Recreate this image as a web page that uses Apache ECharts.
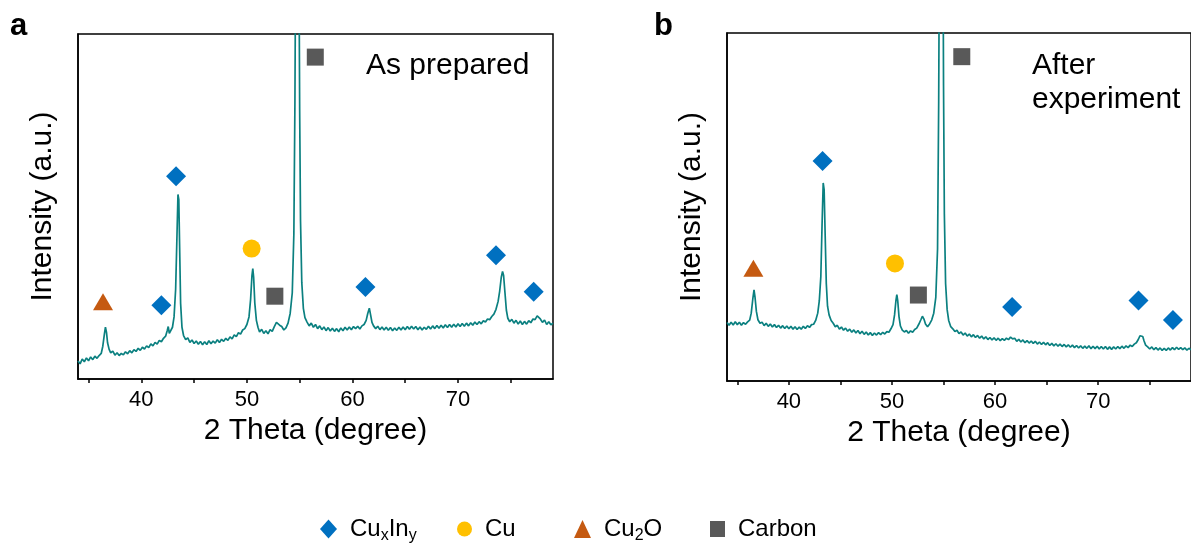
<!DOCTYPE html>
<html>
<head>
<meta charset="utf-8">
<script src="https://cdn.jsdelivr.net/npm/echarts@6/dist/echarts.min.js"></script>
<style>
  html, body { margin: 0; padding: 0; background: #ffffff; }
  #chart { width: 1191px; height: 548px; }
</style>
</head>
<body>
<div id="chart"></div>
<script>
// ---------------- DATA ----------------
const xMajorTicks = [40, 50, 60, 70];
const xAllTicks = [35, 40, 45, 50, 55, 60, 65, 70, 75];
const xTitle = '2 Theta (degree)';
const yTitle = 'Intensity (a.u.)';
const panelLabels = ['a', 'b'];
const panelNotes = [['As prepared'], ['After', 'experiment']];
const phaseNames = ['CuxIny', 'Cu', 'Cu2O', 'Carbon'];

// Panel a: XRD pattern (2θ, intensity in % of plot height)
const curveA = [
[34.0,5.2],[34.2,4.4],[34.4,5.8],[34.6,5.0],[34.8,6.1],[35.0,5.3],[35.2,6.4],[35.4,5.6],[35.6,6.6],[35.8,6.0],
[36.0,6.8],[36.2,7.4],[36.35,9.5],[36.5,13.0],[36.6,15.0],[36.7,13.5],[36.8,10.5],[36.95,8.6],[37.1,7.6],[37.3,8.1],
[37.5,6.9],[37.7,7.6],[37.9,6.8],[38.1,7.4],[38.3,7.0],[38.5,7.9],[38.7,7.3],[38.9,8.2],[39.1,7.6],[39.3,8.5],
[39.5,8.0],[39.7,8.9],[39.9,8.3],[40.1,9.2],[40.3,8.7],[40.5,9.6],[40.7,9.1],[40.9,10.2],[41.1,9.6],[41.3,10.6],
[41.5,10.1],[41.7,11.2],[41.9,10.8],[42.1,11.8],[42.3,12.4],[42.45,14.0],[42.55,15.2],[42.65,13.2],[42.8,13.6],[42.95,15.0],
[43.1,18.0],[43.25,26.0],[43.38,42.0],[43.47,53.5],[43.55,52.0],[43.63,38.0],[43.72,22.0],[43.85,15.0],[44.0,12.6],[44.2,11.4],
[44.4,11.9],[44.6,10.6],[44.8,11.3],[45.0,10.3],[45.2,11.0],[45.4,10.1],[45.6,10.9],[45.8,9.9],[46.0,10.8],[46.2,10.0],
[46.4,11.1],[46.6,10.2],[46.8,11.0],[47.0,10.4],[47.2,11.4],[47.4,10.6],[47.6,11.5],[47.8,10.9],[48.0,11.8],[48.2,11.2],
[48.4,12.2],[48.6,11.6],[48.8,12.8],[49.0,12.3],[49.2,13.4],[49.4,13.0],[49.6,14.2],[49.8,14.6],[50.0,15.8],[50.2,18.0],
[50.35,23.0],[50.48,30.0],[50.56,32.0],[50.64,29.5],[50.75,22.0],[50.9,17.0],[51.05,15.0],[51.2,13.6],[51.4,14.4],[51.6,13.2],
[51.8,14.0],[52.0,13.1],[52.2,14.3],[52.4,13.8],[52.6,15.2],[52.8,16.4],[52.95,16.8],[53.1,15.6],[53.3,15.2],[53.5,14.2],
[53.7,14.8],[53.9,16.2],[54.1,19.0],[54.3,25.0],[54.45,42.0],[54.55,80.0],[54.63,130.0],[54.7,180.0],[54.85,180.0],[54.92,130.0],
[55.0,78.0],[55.08,46.0],[55.2,28.0],[55.35,20.5],[55.5,17.8],[55.7,16.5],[55.9,15.4],[56.1,16.2],[56.3,15.0],[56.5,15.8],
[56.7,14.6],[56.9,15.4],[57.1,14.3],[57.3,15.1],[57.5,14.0],[57.7,14.9],[57.9,13.9],[58.1,14.7],[58.3,13.8],[58.5,14.6],
[58.7,13.7],[58.9,14.8],[59.1,14.0],[59.3,15.0],[59.5,14.2],[59.7,15.1],[59.9,14.3],[60.1,15.2],[60.3,14.6],[60.5,15.3],
[60.7,14.5],[60.9,15.4],[61.1,15.8],[61.3,17.0],[61.45,19.0],[61.6,20.5],[61.72,18.6],[61.85,16.4],[62.0,15.4],[62.2,14.6],
[62.4,15.3],[62.6,14.3],[62.8,15.1],[63.0,14.2],[63.2,15.0],[63.4,14.1],[63.6,14.9],[63.8,14.0],[64.0,14.8],[64.2,14.1],
[64.4,15.0],[64.6,14.2],[64.8,15.1],[65.0,14.3],[65.2,15.2],[65.4,14.4],[65.6,15.3],[65.8,14.5],[66.0,15.2],[66.2,14.3],
[66.4,15.1],[66.6,14.2],[66.8,15.0],[67.0,14.4],[67.2,15.3],[67.4,14.5],[67.6,15.4],[67.8,14.6],[68.0,15.5],[68.2,14.7],
[68.4,15.6],[68.6,14.8],[68.8,15.7],[69.0,14.9],[69.2,15.8],[69.4,15.0],[69.6,15.9],[69.8,15.1],[70.0,16.0],[70.2,15.2],
[70.4,16.1],[70.6,15.3],[70.8,16.2],[71.0,15.4],[71.2,16.3],[71.4,15.6],[71.6,16.5],[71.8,15.8],[72.0,16.6],[72.2,16.0],
[72.4,16.9],[72.6,16.5],[72.8,17.4],[73.0,17.2],[73.2,18.1],[73.4,18.8],[73.6,20.2],[73.8,22.5],[73.95,25.5],[74.1,29.5],
[74.22,31.2],[74.32,30.0],[74.45,25.0],[74.58,20.0],[74.72,17.6],[74.9,16.6],[75.1,17.3],[75.3,16.2],[75.5,17.0],[75.7,15.9],
[75.9,16.8],[76.1,15.8],[76.3,16.7],[76.5,15.9],[76.7,16.9],[76.9,16.3],[77.1,17.4],[77.3,17.2],[77.5,18.3],[77.65,18.6],
[77.8,17.4],[78.0,16.4],[78.2,17.1],[78.4,15.8],[78.6,16.6],[78.8,15.7],[79.0,16.2]
];

// Panel b: XRD pattern
const curveB = [
[34.0,16.8],[34.2,16.0],[34.4,16.9],[34.6,16.1],[34.8,17.0],[35.0,16.2],[35.2,16.9],[35.4,16.0],[35.6,16.8],[35.8,16.3],
[36.0,17.0],[36.2,17.5],[36.35,19.5],[36.5,23.5],[36.62,26.2],[36.72,24.0],[36.85,20.0],[37.0,17.6],[37.2,16.6],[37.4,16.9],
[37.6,15.9],[37.8,16.6],[38.0,15.7],[38.2,16.4],[38.4,15.5],[38.6,16.2],[38.8,15.4],[39.0,16.0],[39.2,15.2],[39.4,15.9],
[39.6,15.1],[39.8,15.8],[40.0,15.0],[40.2,15.7],[40.4,14.9],[40.6,15.6],[40.8,14.8],[41.0,15.5],[41.2,14.9],[41.4,15.7],
[41.6,15.1],[41.8,15.9],[42.0,15.4],[42.2,16.2],[42.4,16.3],[42.6,17.4],[42.8,19.5],[42.95,23.0],[43.1,30.0],[43.22,45.0],
[43.33,56.9],[43.42,55.0],[43.52,42.0],[43.63,28.0],[43.75,21.5],[43.9,19.0],[44.1,17.4],[44.3,16.6],[44.5,15.6],[44.7,16.0],
[44.9,14.9],[45.1,15.5],[45.3,14.6],[45.5,15.2],[45.7,14.3],[45.9,14.9],[46.1,14.0],[46.3,14.7],[46.5,13.8],[46.7,14.5],
[46.9,13.6],[47.1,14.3],[47.3,13.4],[47.5,14.1],[47.7,13.2],[47.9,13.9],[48.1,13.1],[48.3,13.8],[48.5,13.2],[48.7,13.9],
[48.9,13.3],[49.1,14.0],[49.3,13.5],[49.5,14.2],[49.7,14.0],[49.9,15.0],[50.1,16.2],[50.25,19.0],[50.38,23.0],[50.47,24.8],
[50.56,23.0],[50.68,18.5],[50.82,15.8],[51.0,14.6],[51.2,14.1],[51.4,14.5],[51.6,13.7],[51.8,14.4],[52.0,14.0],[52.2,14.8],
[52.4,15.2],[52.6,16.3],[52.8,17.6],[52.95,18.6],[53.1,17.8],[53.25,16.4],[53.45,15.6],[53.65,16.4],[53.85,17.5],[54.05,19.5],
[54.25,24.0],[54.42,38.0],[54.53,80.0],[54.62,140.0],[54.7,180.0],[54.86,180.0],[54.93,140.0],[55.0,85.0],[55.08,48.0],[55.2,28.0],
[55.35,20.5],[55.5,17.4],[55.7,15.6],[55.9,15.0],[56.1,14.2],[56.3,14.6],[56.5,13.6],[56.7,14.1],[56.9,13.2],[57.1,13.8],
[57.3,12.9],[57.5,13.5],[57.7,12.7],[57.9,13.3],[58.1,12.5],[58.3,13.1],[58.5,12.3],[58.7,12.9],[58.9,12.1],[59.1,12.7],
[59.3,11.9],[59.5,12.5],[59.7,11.8],[59.9,12.4],[60.1,11.7],[60.3,12.3],[60.5,11.6],[60.7,12.2],[60.9,11.7],[61.1,12.3],
[61.3,11.9],[61.5,12.6],[61.7,12.1],[61.9,12.3],[62.1,11.4],[62.3,12.0],[62.5,11.2],[62.7,11.8],[62.9,11.0],[63.1,11.6],
[63.3,10.9],[63.5,11.5],[63.7,10.8],[63.9,11.4],[64.1,10.6],[64.3,11.2],[64.5,10.5],[64.7,11.1],[64.9,10.4],[65.1,11.0],
[65.3,10.2],[65.5,10.8],[65.7,10.1],[65.9,10.7],[66.1,10.0],[66.3,10.6],[66.5,9.9],[66.7,10.5],[66.9,9.8],[67.1,10.4],
[67.3,9.7],[67.5,10.3],[67.7,9.6],[67.9,10.2],[68.1,9.5],[68.3,10.1],[68.5,9.4],[68.7,10.0],[68.9,9.4],[69.1,10.1],
[69.3,9.3],[69.5,10.0],[69.7,9.3],[69.9,10.0],[70.1,9.2],[70.3,9.9],[70.5,9.2],[70.7,9.9],[70.9,9.1],[71.1,9.8],
[71.3,9.1],[71.5,9.8],[71.7,9.2],[71.9,9.9],[72.1,9.3],[72.3,10.0],[72.5,9.4],[72.7,10.1],[72.9,9.6],[73.1,10.3],
[73.3,9.9],[73.5,10.6],[73.7,11.0],[73.9,12.0],[74.05,13.0],[74.2,13.5],[74.32,12.8],[74.45,11.5],[74.6,10.3],[74.8,9.8],
[75.0,9.2],[75.2,9.8],[75.4,9.0],[75.6,9.6],[75.8,8.9],[76.0,9.5],[76.2,8.8],[76.4,9.4],[76.6,8.8],[76.8,9.5],
[77.0,8.9],[77.2,9.6],[77.4,9.0],[77.6,9.7],[77.8,9.1],[78.0,9.6],[78.2,9.0],[78.4,9.5],[78.6,8.9],[78.8,9.4],[79.0,9.0]
];

// Phase markers (2θ, height)
const aCuxIny = [[41.9,21.4],[43.29,58.8],[61.23,26.7],[73.6,35.9],[77.17,25.3]];
const aCu     = [[50.45,37.8]];
const aCu2O   = [[36.37,22.4]];
const aCarbon = [[52.65,24.0],[56.48,93.3]];
const bCuxIny = [[43.27,63.2],[61.65,21.3],[73.91,23.1],[77.25,17.5]];
const bCu     = [[50.29,33.8]];
const bCu2O   = [[36.56,32.4]];
const bCarbon = [[52.56,24.7],[56.77,93.2]];

// ---------------- STYLE ----------------
const FONT = 'Arial, "Liberation Sans", sans-serif';
const LINE_COLOR = '#0B8080';
const phaseStyle = {
  CuxIny: { symbol: 'diamond',  size: 20,      color: '#0070C0' },
  Cu:     { symbol: 'circle',   size: 18,      color: '#FFC000' },
  Cu2O:   { symbol: 'triangle', size: [20,17], color: '#C55A11' },
  Carbon: { symbol: 'rect',     size: 17,      color: '#595959' }
};

const grids = [
  { left: 78,  top: 34, width: 475, height: 345, show: true, borderColor: '#000', borderWidth: 1.5, backgroundColor: 'transparent' },
  { left: 727, top: 33, width: 474, height: 348, show: true, borderColor: '#000', borderWidth: 1.5, backgroundColor: 'transparent' }
];

function xAxisFor(i) {
  return {
    type: 'value', gridIndex: i, min: 34, max: 79,
    name: xTitle, nameLocation: 'middle', nameGap: 37,
    nameTextStyle: { fontFamily: FONT, fontSize: 30, color: '#000' },
    axisLine: { show: true, lineStyle: { color: '#000', width: 1.5 } },
    axisTick: { show: true, customValues: xAllTicks, length: 4, lineStyle: { color: '#000', width: 1.5 } },
    axisLabel: { show: true, customValues: xMajorTicks, margin: 10, fontFamily: FONT, fontSize: 22, color: '#000' },
    splitLine: { show: false }
  };
}
function yAxisFor(i) {
  return {
    type: 'value', gridIndex: i, min: 0, max: 100,
    name: yTitle, nameLocation: 'middle', nameGap: 20,
    nameTextStyle: { fontFamily: FONT, fontSize: 30, color: '#000' },
    axisLine: { show: true, lineStyle: { color: '#000', width: 1.5 } },
    axisTick: { show: false }, axisLabel: { show: false }, splitLine: { show: false }
  };
}

const phaseData = [
  { CuxIny: aCuxIny, Cu: aCu, Cu2O: aCu2O, Carbon: aCarbon },
  { CuxIny: bCuxIny, Cu: bCu, Cu2O: bCu2O, Carbon: bCarbon }
];
const curves = [curveA, curveB];

const series = [];
[0, 1].forEach(function (i) {
  series.push({
    type: 'line', xAxisIndex: i, yAxisIndex: i, data: curves[i],
    showSymbol: false, clip: true, silent: true,
    lineStyle: { color: LINE_COLOR, width: 1.7 }, z: 2
  });
  phaseNames.forEach(function (p) {
    const st = phaseStyle[p];
    series.push({
      type: 'scatter', name: p, xAxisIndex: i, yAxisIndex: i,
      data: phaseData[i][p], symbol: st.symbol, symbolSize: st.size,
      itemStyle: { color: st.color, opacity: 1 }, silent: true, z: 3
    });
  });
});

const rich = {
  g: { width: 8 },
  t: { fontFamily: FONT, fontSize: 24, color: '#000', lineHeight: 30 },
  s: { fontFamily: FONT, fontSize: 16, color: '#000', lineHeight: 12, verticalAlign: 'bottom' }
};
const legendText = {
  CuxIny: '{g|}{t|Cu}{s|x}{t|In}{s|y}',
  Cu: '{g|}{t|Cu}',
  Cu2O: '{g|}{t|Cu}{s|2}{t|O}',
  Carbon: '{g|}{t|Carbon}'
};
const legendLayout = [
  { name: 'CuxIny', icon: 'diamond',  w: 17, h: 19, left: 320 },
  { name: 'Cu',     icon: 'circle',   w: 15, h: 15, left: 457 },
  { name: 'Cu2O',   icon: 'triangle', w: 17, h: 18, left: 574 },
  { name: 'Carbon', icon: 'rect',     w: 15, h: 16, left: 710 }
];
const legends = legendLayout.map(function (L) {
  return {
    data: [{ name: L.name, icon: L.icon }], left: L.left, top: 517, padding: 0,
    itemWidth: L.w, itemHeight: L.h, selectedMode: false,
    formatter: function (n) { return legendText[n]; },
    textStyle: { rich: rich }
  };
});

const graphic = [
  { type: 'text', left: 10, top: 11, style: { text: panelLabels[0], font: 'bold 31px ' + FONT, fill: '#000' } },
  { type: 'text', left: 654, top: 11, style: { text: panelLabels[1], font: 'bold 31px ' + FONT, fill: '#000' } },
  { type: 'text', left: 366, top: 51, style: { text: panelNotes[0][0], font: '30px ' + FONT, fill: '#000' } },
  { type: 'text', left: 1032, top: 51, style: { text: panelNotes[1][0], font: '30px ' + FONT, fill: '#000' } },
  { type: 'text', left: 1032, top: 85, style: { text: panelNotes[1][1], font: '30px ' + FONT, fill: '#000' } }
];

const chart = echarts.init(document.getElementById('chart'), null, { renderer: 'canvas' });
chart.setOption({
  animation: false,
  backgroundColor: '#ffffff',
  grid: grids,
  xAxis: [xAxisFor(0), xAxisFor(1)],
  yAxis: [yAxisFor(0), yAxisFor(1)],
  legend: legends,
  series: series,
  graphic: graphic
});
</script>
</body>
</html>
